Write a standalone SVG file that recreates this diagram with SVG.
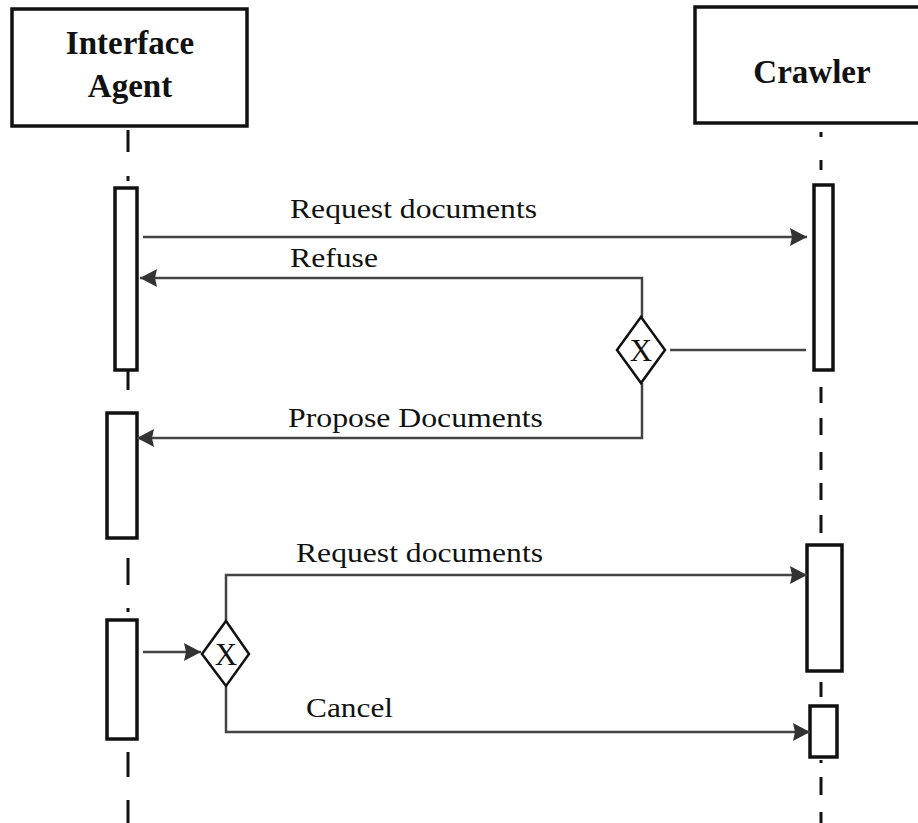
<svg xmlns="http://www.w3.org/2000/svg" width="918" height="823" viewBox="0 0 918 823">
  <style>
    .head { fill: #fff; stroke: #111; stroke-width: 3.5; }
    .head-text { font-family: "Liberation Serif", "Times New Roman", serif; font-weight: bold; font-size: 33px; fill: #111; text-anchor: middle; }
    .act { fill: #fff; stroke: #111; stroke-width: 3.5; }
    .life { stroke: #111; stroke-width: 3; fill: none; }
    .msg { stroke: #444; stroke-width: 2.5; fill: none; }
    .label { font-family: "Liberation Serif", "Times New Roman", serif; font-size: 28px; fill: #111; }
    .gate { fill: #fff; stroke: #111; stroke-width: 2.5; }
    .gate-text { font-family: "Liberation Serif", "Times New Roman", serif; font-size: 31px; fill: #111; text-anchor: middle; }
  </style>
  <defs>
    <marker id="arrow" viewBox="0 0 17 18" refX="17" refY="9" markerWidth="17" markerHeight="18" markerUnits="userSpaceOnUse" orient="auto">
      <path d="M0,0 L17,9 L0,18 L2,9 Z" fill="#333"/>
    </marker>
  </defs>

  <rect width="918" height="823" fill="#fff"/>

  <!-- lifelines -->
  <g id="lifelines">
    <path class="life" d="M128,130 V152 M128,176 V181 M128,370 V390 M128,558 V585 M128,608 V612 M128,752 V777 M128,800 V823"/>
    <path class="life" d="M821,132 V137 M821,160 V170 M821,387 V403 M821,418 V435 M821,452 V470 M821,483 V500 M821,515 V533 M821,682 V697 M821,760 V763 M821,777 V795 M821,812 V823"/>
  </g>

  <!-- participants -->
  <g id="interface-agent">
    <rect class="head" x="12" y="9" width="235" height="117"/>
    <text class="head-text" x="130" y="54">Interface</text>
    <text class="head-text" x="130" y="97">Agent</text>
  </g>
  <g id="crawler">
    <rect class="head" x="695" y="7" width="240" height="116"/>
    <text class="head-text" x="812" y="83">Crawler</text>
  </g>

  <!-- activations -->
  <g id="agent-activation-1"><rect class="act" x="115" y="188" width="22" height="182"/></g>
  <g id="agent-activation-2"><rect class="act" x="107" y="413" width="30" height="125"/></g>
  <g id="agent-activation-3"><rect class="act" x="107" y="620" width="30" height="119"/></g>
  <g id="crawler-activation-1"><rect class="act" x="814" y="185" width="19" height="185"/></g>
  <g id="crawler-activation-2"><rect class="act" x="807" y="545" width="35" height="126"/></g>
  <g id="crawler-activation-3"><rect class="act" x="810" y="706" width="27" height="51"/></g>

  <!-- messages -->
  <g id="connectors">
    <path class="msg" d="M143,237 H807" marker-end="url(#arrow)"/>
    <path class="msg" d="M642,317 V278 H140" marker-end="url(#arrow)"/>
    <path class="msg" d="M806,350 H670"/>
    <path class="msg" d="M642,383 V438 H137" marker-end="url(#arrow)"/>
    <path class="msg" d="M143,652 H201" marker-end="url(#arrow)"/>
    <path class="msg" d="M226,621 V575 H807" marker-end="url(#arrow)"/>
    <path class="msg" d="M226,686 V732 H810" marker-end="url(#arrow)"/>
  </g>

  <!-- exclusive gateways -->
  <g id="gateway-1">
    <polygon class="gate" points="641,317 665,350 641,383 617,350"/>
    <text class="gate-text" x="641" y="361">X</text>
  </g>
  <g id="gateway-2">
    <polygon class="gate" points="226,621 249,654 226,686 202,654"/>
    <text class="gate-text" x="226" y="665">X</text>
  </g>

  <!-- message labels -->
  <g id="labels">
    <text class="label" x="290" y="218" textLength="247" lengthAdjust="spacingAndGlyphs">Request documents</text>
    <text class="label" x="290" y="267" textLength="88" lengthAdjust="spacingAndGlyphs">Refuse</text>
    <text class="label" x="288" y="427" textLength="255" lengthAdjust="spacingAndGlyphs">Propose Documents</text>
    <text class="label" x="296" y="562" textLength="247" lengthAdjust="spacingAndGlyphs">Request documents</text>
    <text class="label" x="306" y="717" textLength="87" lengthAdjust="spacingAndGlyphs">Cancel</text>
  </g>
</svg>
